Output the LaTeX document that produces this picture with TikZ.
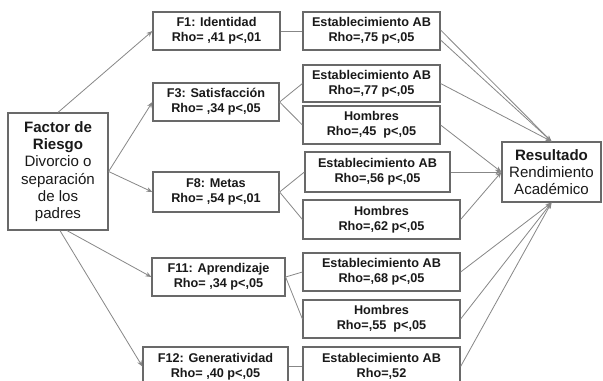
\documentclass[tikz,border=0pt]{standalone}
\usepackage{fontspec}
\setmainfont{Liberation Sans}
\usetikzlibrary{arrows.meta,calc}
\definecolor{ln}{RGB}{135,135,135}
\definecolor{bd}{RGB}{105,105,105}
\definecolor{tx}{RGB}{25,25,25}
\begin{document}
\begin{tikzpicture}[x=0.75pt,y=-0.75pt,
  bx/.style n args={2}{draw=bd, line width=0.9pt, fill=white, text=tx, align=center, inner sep=0pt,
    minimum width=#1*0.75pt, minimum height=#2*0.75pt, font=\fontsize{9.5}{11.2}\selectfont\bfseries},
  big/.style={font=\fontsize{11.3}{12.9}\selectfont},
  ln/.style={draw=ln, line width=0.6pt},
  ar/.style={ln, -{Stealth[length=4.5pt,width=3.5pt]}}]
\useasboundingbox (0,0) rectangle (603,380);
\clip (0,0) rectangle (603,380);
\fill[white] (0,0) rectangle (603,380);
% left
\node[bx={100}{117}, big] (fac) at (58,171.5) {\textbf{Factor de}\\\textbf{Riesgo}\\Divorcio o\\separación\\de los\\padres};
% factors
\node[bx={127}{38}] (f1) at (216.5,31) {F1: Identidad\\Rho= ,41 p<,01};
\node[bx={126}{38}] (f3) at (216,102) {F3: Satisfacción\\Rho= ,34 p<,05};
\node[bx={126}{40}] (f8) at (216,192) {F8: Metas\\Rho= ,54 p<,01};
\node[bx={133}{38}] (f11) at (218.5,277) {F11: Aprendizaje\\Rho= ,34 p<,05};
\node[bx={145}{39}] (f12) at (215.5,366.5) {F12: Generatividad\\Rho= ,40 p<,05};
% subgroups
\node[bx={137}{38}] (e1) at (371.5,31) {Establecimiento AB\\Rho=,75 p<,05};
\node[bx={137}{37}] (e2) at (371.5,83.5) {Establecimiento AB\\Rho=,77 p<,05};
\node[bx={137}{38}] (h1) at (371.5,125) {Hombres\\Rho=,45 \ p<,05};
\node[bx={145}{40}] (e3) at (377.5,172) {Establecimiento AB\\Rho=,56 p<,05};
\node[bx={157}{39}] (h2) at (381.5,219.5) {Hombres\\Rho=,62 p<,05};
\node[bx={157}{38}] (e4) at (381.5,272) {Establecimiento AB\\Rho=,68 p<,05};
\node[bx={157}{38}] (h3) at (381.5,319) {Hombres\\Rho=,55 \ p<,05};
\node[bx={157}{39}] (e5) at (381.5,366.5) {Establecimiento AB\\Rho=,52};
% result
\node[bx={99}{60}, big] (res) at (551.5,172) {\textbf{Resultado}\\\mdseries Rendimiento\\\mdseries Académico};
% arrows from factor
\draw[ar] (fac.north) -- (f1.west);
\draw[ar] (fac.east) -- (f3.west);
\draw[ar] (fac.east) -- (f8.west);
\draw[ar] ($(fac.south)+(9,0)$) -- (f11.west);
\draw[ar] ($(fac.south)+(2,0)$) -- (f12.west);
% factor to subgroups
\draw[ln] (f1.east) -- (e1.west);
\draw[ln] (f3.east) -- (e2.west);
\draw[ln] (f3.east) -- (h1.west);
\draw[ln] (f8.east) -- (e3.west);
\draw[ln] (f8.east) -- (h2.west);
\draw[ln] (f11.east) -- (e4.west);
\draw[ln] (f11.east) -- (h3.west);
\draw[ln] (f12.east) -- (e5.west);
% subgroups to result
\draw[ar] ($(e1.east)+(0,-1)$) -- (res.north);
\draw[ar] ($(e1.east)+(0,9)$) -- (res.north);
\draw[ar] (e2.east) -- (res.north);
\draw[ar] (h1.east) -- (res.west);
\draw[ar] (e3.east) -- (res.west);
\draw[ar] (h2.east) -- (res.west);
\draw[ar] (e4.east) -- (res.south);
\draw[ar] (h3.east) -- (res.south);
\draw[ar] (e5.east) -- (res.south);
\end{tikzpicture}
\end{document}
